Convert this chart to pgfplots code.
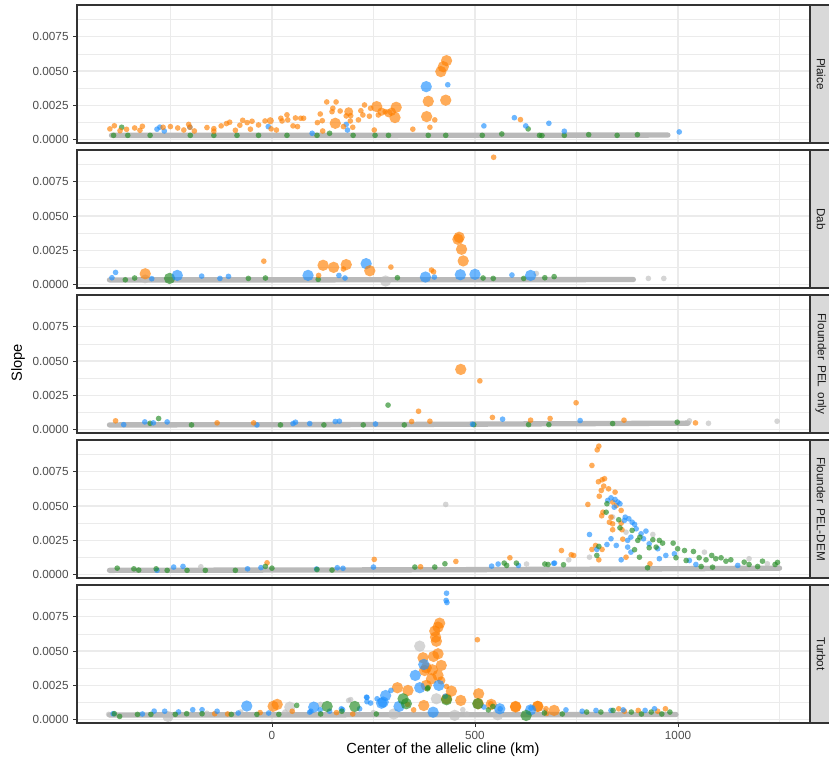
\documentclass[border=0pt]{standalone}
\usepackage{pgfplots}
\pgfplotsset{compat=1.18}
\usepackage{fontspec}
\setmainfont{Liberation Sans}

\definecolor{cOr}{HTML}{FF7F00}
\definecolor{cBl}{HTML}{1E90FF}
\definecolor{cGr}{HTML}{228B22}
\definecolor{cGy}{HTML}{BEBEBE}
\definecolor{cBand}{HTML}{B9B9B9}
\definecolor{grid92}{HTML}{EBEBEB}
\definecolor{gray20}{HTML}{333333}
\definecolor{gray30}{HTML}{4D4D4D}
\definecolor{gray10}{HTML}{1A1A1A}
\definecolor{stripfill}{HTML}{D9D9D9}

\pgfplotsset{
  dots/.style={only marks, mark=*, scatter,
    scatter/use mapped color={draw=#1, fill=#1},
    mark options={draw opacity=0, fill opacity=0.65},
    visualization depends on={\thisrow{s} \as \ps},
    scatter/@pre marker code/.append style={/tikz/mark size=1.12*\ps pt}},
  band/.style={no marks, color=cBand, line width=4pt, line cap=round, line join=round},
  panel/.style={
    scale only axis, width=549.75pt, height=103.5pt,
    xmin=-480, xmax=1325, ymin=-0.00026, ymax=0.00983,
    axis line style={gray20, line width=0.8pt},
    xtick={0,500,1000}, minor xtick={-250,250,750,1250},
    ytick={0,0.0025,0.005,0.0075}, minor ytick={0.00125,0.00375,0.00625,0.00875},
    yticklabels={0.0000,0.0025,0.0050,0.0075},
    scaled y ticks=false,
    grid=both,
    major grid style={grid92, line width=0.9pt},
    minor grid style={grid92, line width=0.5pt},
    tick align=outside, major tick length=2.8pt, minor tick length=0pt,
    tick style={gray20, line width=0.6pt},
    xtick pos=left, ytick pos=left,
    /pgf/number format/assume math mode=true,
    ticklabel style={font=\fontsize{8.8}{10}\selectfont, text=gray30},
    anchor=north west,
  },
  inner/.style={xticklabels={}, xtick style={draw=none}},
}

\begin{document}
\begin{tikzpicture}

% ---------------- Plaice ----------------
\begin{axis}[panel, inner, name=p1, at={(0pt,0pt)}]
\addplot[band] coordinates {(-395,0.00030) (300,0.00030) (975,0.00032)};
\addplot[dots=cGr] table[row sep=\\] {x y s\\
-390 0.00030 1.9\\ -370 0.00089 1.9\\ -355 0.00030 1.9\\ -300 0.00030 1.9\\
-201 0.00030 1.9\\ -143 0.00030 1.9\\ -86 0.00030 1.9\\ -33 0.00030 1.9\\
37 0.00030 1.9\\ 111 0.00030 1.9\\ 142 0.00045 1.9\\ 200 0.00030 1.9\\
254 0.00030 1.9\\ 287 0.00030 1.9\\ 385 0.00030 1.9\\ 428 0.00030 1.9\\
518 0.00030 1.9\\ 566 0.00040 1.9\\ 631 0.00077 1.9\\ 659 0.00030 1.9\\
665 0.00028 1.9\\ 720 0.00030 1.9\\ 780 0.00035 1.9\\ 850 0.00030 1.9\\
900 0.00035 1.9\\
};
\addplot[dots=cBl] table[row sep=\\] {x y s\\
-283 0.00075 1.9\\ -276 0.00090 1.9\\ -265 0.00062 1.9\\ -202 0.00090 1.9\\
-9 0.00094 1.9\\ 99 0.00045 1.9\\ 183 0.00110 1.9\\ 186 0.00069 1.9\\
380 0.00386 3.8\\ 433 0.00400 1.9\\ 522 0.00099 1.9\\ 597 0.00159 1.9\\
625 0.00099 1.9\\ 682 0.00118 1.9\\ 720 0.00060 1.9\\ 1003 0.00055 1.9\\
};
\addplot[dots=cOr] table[row sep=\\] {x y s\\
-399 0.00077 1.9\\ -388 0.00100 1.9\\ -374 0.00064 1.9\\ -358 0.00074 1.9\\
-338 0.00084 1.9\\ -325 0.00067 1.9\\ -319 0.00096 1.9\\ -268 0.00089 1.9\\
-250 0.00094 1.9\\ -232 0.00084 1.9\\ -217 0.00069 1.9\\ -205 0.00110 1.9\\
-202 0.00089 1.9\\ -191 0.00062 1.9\\ -160 0.00087 1.9\\ -143 0.00079 1.9\\
-143 0.00060 1.9\\ -125 0.00099 1.9\\ -112 0.00116 1.9\\ -104 0.00126 1.9\\
-90 0.00067 1.9\\ -79 0.00104 1.9\\ -72 0.00140 1.9\\ -61 0.00123 1.9\\
-53 0.00075 1.9\\ -49 0.00133 1.9\\ -33 0.00106 1.9\\ -17 0.00135 1.9\\
-4 0.00137 2.4\\ -2 0.00077 1.9\\ 11 0.00069 1.9\\ 22 0.00155 1.9\\
25 0.00135 1.9\\ 37 0.00180 1.9\\ 39 0.00143 1.9\\ 52 0.00099 1.9\\
58 0.00157 1.9\\ 63 0.00094 1.9\\ 71 0.00155 1.9\\ 78 0.00155 1.9\\
112 0.00123 1.9\\ 119 0.00186 1.9\\ 124 0.00137 1.9\\ 125 0.00062 1.9\\
135 0.00274 1.9\\ 148 0.00203 1.9\\ 150 0.00228 1.9\\ 158 0.00274 1.9\\
156 0.00118 3.8\\ 168 0.00208 1.9\\ 176 0.00094 1.9\\ 183 0.00172 1.9\\
189 0.00203 3.0\\ 193 0.00135 1.9\\ 194 0.00174 1.9\\ 199 0.00089 1.9\\
213 0.00143 1.9\\ 219 0.00210 1.9\\ 224 0.00179 1.9\\ 228 0.00252 1.9\\
240 0.00170 1.9\\ 243 0.00228 1.9\\ 252 0.00069 1.9\\ 258 0.00240 3.8\\
262 0.00179 1.9\\ 270 0.00203 2.8\\ 279 0.00203 1.9\\ 287 0.00192 2.8\\
295 0.00203 2.8\\ 306 0.00235 3.8\\ 303 0.00160 3.8\\ 347 0.00075 1.9\\
381 0.00167 3.8\\ 385 0.00279 3.8\\ 389 0.00089 1.9\\ 401 0.00143 1.9\\
416 0.00496 3.8\\ 422 0.00532 3.8\\ 430 0.00576 3.8\\ 428 0.00287 3.8\\
612 0.00145 1.9\\
};
\end{axis}

% ---------------- Dab ----------------
\begin{axis}[panel, inner, name=p2, at={(0pt,-108.75pt)}]
\addplot[band] coordinates {(-400,0.00033) (400,0.00034) (890,0.00036)};
\addplot[dots=cGy] table[row sep=\\] {x y s\\
280 0.00025 3.8\\ 927 0.00044 1.9\\ 965 0.00044 1.9\\ 651 0.00080 1.9\\
-312 0.00040 3.0\\
};
\addplot[dots=cGr] table[row sep=\\] {x y s\\
-252 0.00044 3.8\\ -361 0.00034 1.9\\ -338 0.00047 1.9\\ -58 0.00044 1.9\\
-16 0.00047 1.9\\ 114 0.00037 1.9\\ 309 0.00049 1.9\\ 520 0.00047 1.9\\
545 0.00044 1.9\\ 620 0.00044 1.9\\ 672 0.00049 1.9\\ 695 0.00057 1.9\\
};
\addplot[dots=cBl] table[row sep=\\] {x y s\\
232 0.00152 3.8\\ -385 0.00088 1.9\\ -394 0.00049 1.9\\ -233 0.00066 3.8\\
-173 0.00061 1.9\\ -107 0.00059 1.9\\ -128 0.00044 1.9\\ -296 0.00042 1.9\\
89 0.00066 3.8\\ 165 0.00066 1.9\\ 180 0.00047 1.9\\ 378 0.00054 3.8\\
400 0.00054 1.9\\ 464 0.00071 3.8\\ 500 0.00074 3.8\\ 591 0.00069 1.9\\
637 0.00066 3.8\\
};
\addplot[dots=cOr] table[row sep=\\] {x y s\\
546 0.00930 1.9\\ 458 0.00330 3.8\\ 461 0.00345 3.8\\ 467 0.00257 3.8\\
471 0.00172 3.8\\ 126 0.00140 3.8\\ 152 0.00125 3.8\\ 183 0.00145 3.8\\
176 0.00113 1.9\\ -20 0.00170 1.9\\ 241 0.00100 3.8\\ 293 0.00127 1.9\\
393 0.00105 1.9\\ 398 0.00093 1.9\\ -312 0.00078 3.8\\ 115 0.00066 1.9\\
};
\end{axis}

% ---------------- Flounder PEL only ----------------
\begin{axis}[panel, inner, name=p3, at={(0pt,-217.5pt)}]
\addplot[band] coordinates {(-400,0.00033) (300,0.00036) (1025,0.00046)};
\addplot[dots=cGy] table[row sep=\\] {x y s\\
1075 0.00045 1.9\\ 1244 0.00060 1.9\\ 1028 0.00063 1.9\\
};
\addplot[dots=cGr] table[row sep=\\] {x y s\\
286 0.00178 1.9\\ -279 0.00080 1.9\\ 326 0.00033 1.9\\ 497 0.00035 1.9\\
632 0.00035 1.9\\ 682 0.00035 1.9\\ 839 0.00043 1.9\\ 998 0.00053 1.9\\
128 0.00033 1.9\\ 225 0.00033 1.9\\ -198 0.00033 1.9\\ 21 0.00033 1.9\\
-300 0.00045 1.9\\
};
\addplot[dots=cBl] table[row sep=\\] {x y s\\
-313 0.00055 1.9\\ -292 0.00048 1.9\\ -258 0.00055 1.9\\ 52 0.00043 1.9\\
58 0.00053 1.9\\ 93 0.00043 1.9\\ 156 0.00058 1.9\\ 166 0.00060 1.9\\
255 0.00040 1.9\\ 568 0.00075 1.9\\ 759 0.00065 1.9\\ 494 0.00038 1.9\\
-365 0.00035 1.9\\ -37 0.00033 1.9\\
};
\addplot[dots=cOr] table[row sep=\\] {x y s\\
465 0.00439 3.8\\ 512 0.00355 1.9\\ 361 0.00133 1.9\\ 749 0.00195 1.9\\
-385 0.00063 1.9\\ -135 0.00048 1.9\\ -45 0.00048 1.9\\ 344 0.00058 1.9\\
389 0.00060 1.9\\ 543 0.00088 1.9\\ 637 0.00068 1.9\\ 685 0.00080 1.9\\
867 0.00068 1.9\\ 1043 0.00048 1.9\\
};
\end{axis}

% ---------------- Flounder PEL-DEM ----------------
\begin{axis}[panel, inner, name=p4, at={(0pt,-326.25pt)}]
\addplot[band] coordinates {(-400,0.00030) (400,0.00034) (900,0.00040) (1250,0.00046)};
\addplot[dots=cGy] table[row sep=\\] {x y s\\
-175 0.00056 1.9\\ 627 0.00076 1.9\\ 428 0.00512 1.9\\ 839 0.00420 1.9\\
872 0.00309 1.9\\ 938 0.00292 1.9\\ 782 0.00126 1.9\\ 731 0.00107 1.9\\
1065 0.00163 1.9\\ 1175 0.00115 1.9\\ 1220 0.00078 1.9\\
};
\addplot[dots=cOr] table[row sep=\\] {x y s\\
-12 0.00085 1.9\\ 252 0.00110 1.9\\ 366 0.00056 1.9\\ 453 0.00095 1.9\\
586 0.00122 1.9\\ 713 0.00175 1.9\\ 737 0.00144 1.9\\ 743 0.00139 1.9\\
805 0.00938 1.9\\ 801 0.00911 1.9\\ 788 0.00797 1.9\\ 819 0.00700 1.9\\
813 0.00692 1.9\\ 804 0.00678 1.9\\ 817 0.00646 1.9\\ 829 0.00626 1.9\\
811 0.00614 1.9\\ 845 0.00602 1.9\\ 806 0.00572 1.9\\ 778 0.00512 1.9\\
839 0.00529 1.9\\ 848 0.00504 1.9\\ 860 0.00468 1.9\\ 815 0.00455 1.9\\
812 0.00429 1.9\\ 835 0.00419 1.9\\ 831 0.00382 1.9\\ 839 0.00370 1.9\\
860 0.00375 1.9\\ 839 0.00327 1.9\\ 862 0.00327 1.9\\ 864 0.00258 1.9\\
797 0.00212 1.9\\ 788 0.00183 1.9\\ 813 0.00183 1.9\\ 805 0.00107 1.9\\
931 0.00078 1.9\\ 872 0.00126 1.9\\
};
\addplot[dots=cBl] table[row sep=\\] {x y s\\
-283 0.00030 1.9\\ -242 0.00054 1.9\\ -219 0.00059 1.9\\ -60 0.00041 1.9\\
-27 0.00050 1.9\\ 110 0.00040 1.9\\ 161 0.00049 1.9\\ 175 0.00045 1.9\\
250 0.00054 1.9\\ 541 0.00061 1.9\\ 557 0.00076 1.9\\ 607 0.00066 1.9\\
694 0.00081 1.9\\ 696 0.00083 1.9\\
827 0.00541 1.9\\ 835 0.00560 1.9\\ 845 0.00548 1.9\\ 852 0.00529 1.9\\
857 0.00517 1.9\\ 843 0.00492 1.9\\ 870 0.00419 1.9\\ 879 0.00407 1.9\\
868 0.00395 1.9\\ 887 0.00382 1.9\\ 893 0.00366 1.9\\ 897 0.00334 1.9\\
909 0.00297 1.9\\ 921 0.00317 1.9\\ 915 0.00261 1.9\\ 884 0.00273 1.9\\
876 0.00249 1.9\\ 835 0.00261 1.9\\ 782 0.00292 1.9\\ 825 0.00219 1.9\\
848 0.00212 1.9\\ 800 0.00183 1.9\\ 876 0.00200 1.9\\ 929 0.00224 1.9\\
950 0.00188 1.9\\ 970 0.00139 1.9\\ 991 0.00151 1.9\\ 860 0.00107 1.9\\
884 0.00163 1.9\\ 954 0.00115 1.9\\ 1028 0.00102 1.9\\ 1044 0.00073 1.9\\
1147 0.00066 1.9\\
};
\addplot[dots=cGr] table[row sep=\\] {x y s\\
-381 0.00046 1.9\\ -340 0.00041 1.9\\ -328 0.00032 1.9\\ -285 0.00041 1.9\\
-258 0.00030 1.9\\ -209 0.00030 1.9\\ -164 0.00030 1.9\\ -90 0.00030 1.9\\
-16 0.00059 1.9\\ 0 0.00046 1.9\\ 111 0.00036 1.9\\ 148 0.00032 1.9\\
352 0.00054 1.9\\ 401 0.00054 1.9\\ 426 0.00078 1.9\\ 572 0.00083 1.9\\
578 0.00066 1.9\\ 602 0.00083 1.9\\ 672 0.00076 1.9\\ 680 0.00073 1.9\\
718 0.00071 1.9\\
825 0.00517 1.9\\ 823 0.00455 1.9\\ 854 0.00400 1.9\\ 857 0.00341 1.9\\
887 0.00322 1.9\\ 906 0.00273 1.9\\ 901 0.00249 1.9\\ 938 0.00254 1.9\\
954 0.00249 1.9\\ 962 0.00229 1.9\\ 988 0.00229 1.9\\ 929 0.00195 1.9\\
946 0.00200 1.9\\ 805 0.00205 1.9\\ 800 0.00139 1.9\\ 893 0.00181 1.9\\
905 0.00126 1.9\\ 999 0.00188 1.9\\ 1016 0.00175 1.9\\ 1038 0.00168 1.9\\
995 0.00122 1.9\\ 1020 0.00102 1.9\\ 1052 0.00122 1.9\\ 1069 0.00107 1.9\\
1083 0.00139 1.9\\ 1093 0.00115 1.9\\ 1106 0.00122 1.9\\ 1118 0.00097 1.9\\
1130 0.00107 1.9\\ 1163 0.00090 1.9\\ 1175 0.00073 1.9\\ 1196 0.00058 1.9\\
1208 0.00097 1.9\\ 1239 0.00073 1.9\\ 1245 0.00088 1.9\\ 1057 0.00058 1.9\\
1085 0.00053 1.9\\ 925 0.00049 1.9\\
};
\end{axis}

% ---------------- Turbot ----------------
\begin{axis}[panel, name=p5, at={(0pt,-435pt)}, xticklabels={0,500,1000}]
\addplot[band] coordinates {(-400,0.00033) (400,0.00034) (995,0.00036)};
\addplot[dots=cGy] table[row sep=\\] {x y s\\
364 0.00536 3.8\\ 189 0.00139 1.9\\ 405 0.00151 3.8\\ 470 0.00071 1.9\\
120 0.00110 1.9\\ -256 0.00022 3.8\\ -402 0.00037 1.9\\ 44 0.00090 3.8\\
194 0.00145 1.9\\ 556 0.00034 3.8\\ 672 0.00061 1.9\\ -160 0.00045 1.9\\
-77 0.00054 1.9\\ 32 0.00054 1.9\\ 300 0.00040 3.8\\ 450 0.00030 3.8\\
480 0.00040 1.9\\ 250 0.00050 1.9\\
};
\addplot[dots=cOr] table[row sep=\\] {x y s\\
413 0.00704 3.8\\ 409 0.00675 3.8\\ 401 0.00646 3.8\\ 403 0.00602 3.8\\
405 0.00572 3.8\\ 409 0.00480 3.8\\ 398 0.00461 3.8\\ 372 0.00451 3.8\\
417 0.00395 3.8\\ 380 0.00378 3.8\\ 395 0.00363 3.8\\ 376 0.00358 3.8\\
409 0.00322 3.8\\ 393 0.00297 3.8\\ 417 0.00285 2.8\\ 380 0.00249 3.8\\
430 0.00241 1.9\\ 442 0.00207 3.8\\ 335 0.00212 3.8\\ 309 0.00232 3.8\\
465 0.00139 3.8\\ 430 0.00151 3.8\\ 506 0.00583 1.9\\ 509 0.00188 3.8\\
374 0.00102 3.8\\ 334 0.00110 1.9\\ 600 0.00095 3.8\\ 655 0.00095 3.8\\
675 0.00078 1.9\\ 540 0.00110 3.8\\ -141 0.00042 1.9\\ -109 0.00040 1.9\\
3 0.00096 3.8\\ 13 0.00110 3.8\\ -29 0.00050 1.9\\ 50 0.00060 1.9\\
159 0.00050 1.9\\ 199 0.00040 1.9\\ 349 0.00070 1.9\\ 508 0.00115 3.8\\
539 0.00115 1.9\\ 600 0.00091 3.8\\ 654 0.00096 3.8\\ 695 0.00066 3.8\\
677 0.00045 1.9\\ 854 0.00078 1.9\\ 868 0.00060 1.9\\ 902 0.00066 1.9\\
969 0.00078 1.9\\ 950 0.00060 1.9\\
};
\addplot[dots=cBl] table[row sep=\\] {x y s\\
430 0.00923 1.9\\ 429 0.00870 1.9\\ 431 0.00855 1.9\\ 353 0.00322 3.8\\
374 0.00402 3.8\\ 364 0.00232 3.8\\ 411 0.00249 3.8\\ 313 0.00095 3.8\\
280 0.00175 3.8\\ 270 0.00119 3.8\\ 293 0.00212 1.9\\ 233 0.00163 1.9\\
234 0.00130 1.9\\ 216 0.00078 1.9\\ 103 0.00090 3.8\\ 93 0.00053 1.9\\
171 0.00078 1.9\\ 397 0.00053 3.8\\ 427 0.00170 1.9\\ 561 0.00078 3.8\\
638 0.00083 1.9\\ 259 0.00151 1.9\\ -391 0.00042 1.9\\ -319 0.00040 1.9\\
-290 0.00061 1.9\\ -264 0.00060 1.9\\ -230 0.00055 1.9\\ -195 0.00071 1.9\\
-172 0.00071 1.9\\ -135 0.00060 1.9\\ -83 0.00047 1.9\\ -62 0.00098 3.8\\
-8 0.00047 1.9\\ 96 0.00060 1.9\\ 119 0.00071 1.9\\ 142 0.00060 1.9\\
174 0.00071 1.9\\ 234 0.00160 1.9\\ 243 0.00120 1.9\\ 274 0.00127 3.8\\
522 0.00091 1.9\\ 562 0.00078 1.9\\ 637 0.00070 3.8\\ 724 0.00070 1.9\\
764 0.00060 1.9\\ 798 0.00066 1.9\\ 835 0.00066 1.9\\ 865 0.00070 1.9\\
942 0.00078 1.9\\ 919 0.00066 1.9\\
};
\addplot[dots=cGr] table[row sep=\\] {x y s\\
323 0.00151 3.8\\ 331 0.00115 3.8\\ 383 0.00224 1.9\\ 384 0.00232 1.9\\
430 0.00144 3.8\\ 204 0.00095 3.8\\ 136 0.00095 3.8\\ 507 0.00115 3.8\\
626 0.00029 3.8\\ 544 0.00095 1.9\\ 172 0.00060 1.9\\ -388 0.00042 1.9\\
-375 0.00022 1.9\\ -331 0.00037 1.9\\ -298 0.00037 1.9\\ -238 0.00037 1.9\\
-210 0.00042 1.9\\ -172 0.00042 1.9\\ -100 0.00037 1.9\\ -37 0.00037 1.9\\
17 0.00037 1.9\\ 61 0.00103 1.9\\ 120 0.00040 1.9\\ 257 0.00040 1.9\\
533 0.00070 1.9\\ 671 0.00047 1.9\\ 715 0.00040 1.9\\ 775 0.00054 1.9\\
810 0.00054 1.9\\ 840 0.00066 1.9\\ 885 0.00054 1.9\\ 910 0.00040 1.9\\
934 0.00054 1.9\\ 960 0.00040 1.9\\ 980 0.00054 1.9\\
};
\end{axis}

% facet strips on the right of each panel
\foreach \p/\lab in {p1/Plaice, p2/Dab, p3/{Flounder\hspace{0.45em}PEL\hspace{0.45em}only}, p4/{Flounder\hspace{0.45em}PEL-DEM}, p5/Turbot}{
  \draw[gray20, line width=0.8pt, fill=stripfill] (\p.north east) rectangle ([xshift=16.5pt]\p.south east);
  \node[rotate=-90, font=\fontsize{8.8}{10}\selectfont, text=gray10] at ([xshift=8.25pt]\p.east) {\lab};
}

% axis titles
\node[rotate=90, font=\fontsize{11}{13}\selectfont, text=black] at (-44.25pt,-268.5pt) {Slope};
\node[font=\fontsize{11}{13}\selectfont, text=black] at (274.5pt,-558.75pt) {Center of the allelic cline (km)};

\pgfresetboundingbox
\useasboundingbox (-57.75pt,3.75pt) rectangle (564pt,-570pt);
\end{tikzpicture}
\end{document}
